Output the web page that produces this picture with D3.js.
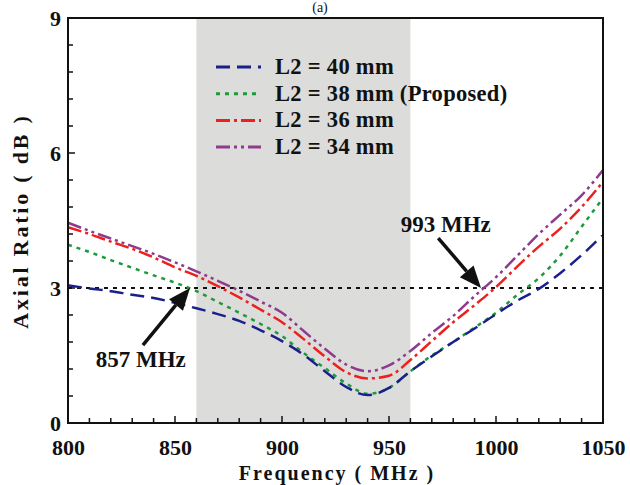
<!DOCTYPE html>
<html><head><meta charset="utf-8">
<script src="https://cdn.jsdelivr.net/npm/d3@7"></script>
<style>
html,body{margin:0;padding:0;background:#fff;}
svg text{font-family:"Liberation Serif","Times New Roman",serif;font-weight:bold;fill:#111;}
</style></head>
<body>
<svg id="chart" width="630" height="485"></svg>
<script>
const freqs = [800,810,820,830,840,850,860,870,880,890,900,910,920,930,940,950,960,970,980,990,1000,1010,1020,1030,1040,1050];
const L2_40 = [3.06,2.99,2.93,2.85,2.78,2.67,2.55,2.42,2.27,2.06,1.82,1.52,1.15,0.80,0.62,0.78,1.15,1.48,1.80,2.10,2.42,2.72,2.98,3.33,3.73,4.18];
const L2_38 = [3.96,3.80,3.62,3.45,3.28,3.12,2.93,2.69,2.45,2.20,1.93,1.56,1.22,0.88,0.65,0.78,1.15,1.50,1.80,2.12,2.45,2.85,3.22,3.72,4.36,5.00];
const L2_36 = [4.35,4.20,4.03,3.87,3.68,3.46,3.27,3.04,2.79,2.52,2.24,1.87,1.48,1.13,0.99,1.05,1.40,1.82,2.24,2.62,3.02,3.48,3.92,4.32,4.80,5.36];
const L2_34 = [4.45,4.27,4.10,3.93,3.76,3.57,3.37,3.16,2.94,2.70,2.45,2.05,1.65,1.30,1.15,1.28,1.60,2.00,2.38,2.82,3.24,3.72,4.20,4.63,5.06,5.62];
const seriesNames = ["L2 = 40 mm","L2 = 38 mm (Proposed)","L2 = 36 mm","L2 = 34 mm"];
const xTicks = [800,850,900,950,1000,1050];
const yTicks = [0,3,6,9];
const band = [860,960];
const refLevel = 3;
const annotations = [
  {label:"857 MHz", f:857, v:3, tailF:835, tailV:1.73, textF:834, textV:1.24},
  {label:"993 MHz", f:993, v:3, tailF:973, tailV:4.11, textF:976.5, textV:4.24}
];

const svg = d3.select("#chart");
const m = {l:68, r:27, t:18, b:62};
const W = 630, H = 485;
const x = d3.scaleLinear().domain([800,1050]).range([m.l, W-m.r]);
const y = d3.scaleLinear().domain([0,9]).range([H-m.b, m.t]);

// background band
svg.append("rect").attr("x",x(band[0])).attr("y",y(9)).attr("width",x(band[1])-x(band[0])).attr("height",y(0)-y(9)).attr("fill","#dcdcda");

// title (a)
svg.append("text").attr("x",320).attr("y",12).attr("text-anchor","middle").style("font-weight","normal").style("font-size","14px").text("(a)");

// reference line
svg.append("line").attr("x1",x(800)).attr("x2",x(1050)).attr("y1",y(refLevel)).attr("y2",y(refLevel))
  .attr("stroke","#111").attr("stroke-width",2).attr("stroke-dasharray","4,5");

const styles = [
  {color:"#1b1f8a", dash:"14,7"},
  {color:"#1e9a3c", dash:"4,5"},
  {color:"#ee1f1f", dash:"14,4,3,4"},
  {color:"#8e3b8e", dash:"14,4,3,4,3,4"}
];
const allSeries = [L2_40, L2_38, L2_36, L2_34];
const line = d3.line().x((d,i)=>x(freqs[i])).y(d=>y(d)).curve(d3.curveMonotoneX);
[3,2,1,0].forEach(k=>{
  svg.append("path").datum(allSeries[k]).attr("d",line).attr("fill","none")
    .attr("stroke",styles[k].color).attr("stroke-width",2.5).attr("stroke-dasharray",styles[k].dash);
});

// axes
const xMinor = d3.range(800,1051,10);
const yMinor = d3.range(0,9.001,0.6);
const gx = svg.append("g").attr("transform",`translate(0,${y(0)})`)
  .call(d3.axisBottom(x).tickValues(xTicks).tickSize(0).tickPadding(16).tickFormat(d3.format("d")));
gx.select(".domain").remove();
gx.selectAll("text").style("font-size","22px").style("font-family","'Liberation Serif',serif").style("font-weight","bold");
const gy = svg.append("g").attr("transform",`translate(${x(800)},0)`)
  .call(d3.axisLeft(y).tickValues(yTicks).tickSize(0).tickPadding(7).tickFormat(d3.format("d")));
gy.select(".domain").remove();
gy.selectAll("text").style("font-size","22px").style("font-family","'Liberation Serif',serif").style("font-weight","bold");

// inside ticks
svg.append("g").selectAll("line").data(xMinor).join("line")
  .attr("x1",d=>x(d)).attr("x2",d=>x(d)).attr("y1",y(0)).attr("y2",d=>y(0)-(d%50===0?7:5))
  .attr("stroke","#111").attr("stroke-width",1.5);
svg.append("g").selectAll("line").data(yMinor).join("line")
  .attr("y1",d=>y(d)).attr("y2",d=>y(d)).attr("x1",x(800)).attr("x2",d=>x(800)+(Math.abs(d%3)<0.01||Math.abs(d%3-3)<0.01?7:5))
  .attr("stroke","#111").attr("stroke-width",1.5);

// frame
svg.append("rect").attr("x",x(800)).attr("y",y(9)).attr("width",x(1050)-x(800)).attr("height",y(0)-y(9))
  .attr("fill","none").attr("stroke","#111").attr("stroke-width",2);

// axis titles
svg.append("text").attr("x",337).attr("y",480).attr("text-anchor","middle").style("font-size","20px").style("letter-spacing","2px").text("Frequency ( MHz )");
svg.append("text").attr("transform","translate(28,221) rotate(-90)").attr("text-anchor","middle").style("font-size","22px").style("letter-spacing","2.8px").text("Axial Ratio ( dB )");

// legend
const lg = svg.append("g");
seriesNames.forEach((name,k)=>{
  const yy = 67 + k*26.7;
  lg.append("line").attr("x1",216).attr("x2",261).attr("y1",yy).attr("y2",yy)
    .attr("stroke",styles[k].color).attr("stroke-width",3).attr("stroke-dasharray",styles[k].dash);
  lg.append("text").attr("x",275).attr("y",yy+7).style("font-size","22.5px").style("letter-spacing","0.3px").text(name);
});

// arrows & annotations
annotations.forEach((a,i)=>{
  const x1=x(a.tailF), y1=y(a.tailV), x2=x(a.f), y2=y(a.v);
  const ang = Math.atan2(y2-y1,x2-x1);
  const hl = 22, hw = 9;
  const bx = x2 - hl*Math.cos(ang), by = y2 - hl*Math.sin(ang);
  svg.append("line").attr("x1",x1).attr("y1",y1).attr("x2",bx).attr("y2",by).attr("stroke","#111").attr("stroke-width",3.5);
  const px = -Math.sin(ang)*hw, py = Math.cos(ang)*hw;
  svg.append("polygon").attr("points",`${x2},${y2} ${bx+px},${by+py} ${bx-px},${by-py}`).attr("fill","#111");
  svg.append("text").attr("x",x(a.textF)).attr("y",y(a.textV)).attr("text-anchor","middle").style("font-size","23px").text(a.label);
});
</script>
</body></html>
